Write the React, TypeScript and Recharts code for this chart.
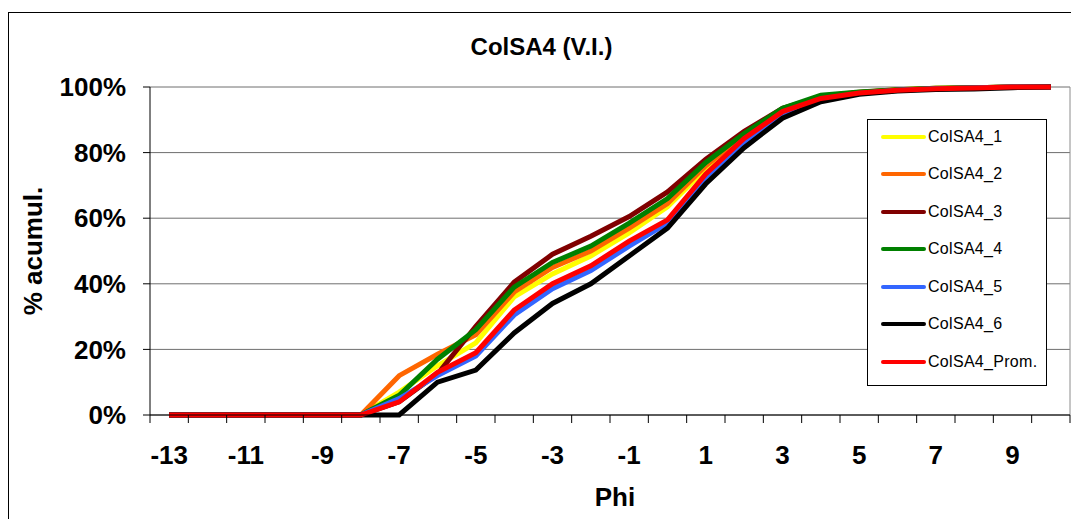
import { LineChart, Line, XAxis, YAxis, CartesianGrid, ReferenceLine, Legend } from 'recharts'

// ─── data ─────────────────────────────────────────────

const PHI = [-13, -12, -11, -10, -9, -8, -7, -6, -5, -4, -3, -2, -1, 0, 1, 2, 3, 4, 5, 6, 7, 8, 9, 10]

const COLSA4_1 = [0, 0, 0, 0, 0, 0, 7, 15, 22, 36, 43, 48.5, 55.5, 63.5, 75, 85, 93, 97, 98.3, 99.2, 99.6, 99.8, 100, 100]
const COLSA4_2 = [0, 0, 0, 0, 0, 0, 12, 18.5, 24.5, 37.5, 45, 50, 57, 64.5, 76, 85.5, 93.2, 97.2, 98.4, 99.2, 99.6, 99.8, 100, 100]
const COLSA4_3 = [0, 0, 0, 0, 0, 0, 4, 12.5, 27, 40.5, 49, 54.5, 60.5, 68, 78, 86.5, 93.5, 97, 98.3, 99.1, 99.5, 99.8, 100, 100]
const COLSA4_4 = [0, 0, 0, 0, 0, 0, 6, 17, 26, 39, 46.5, 51.5, 58.5, 66, 77, 85.8, 93.5, 97.5, 98.5, 99.2, 99.6, 99.8, 100, 100]
const COLSA4_5 = [0, 0, 0, 0, 0, 0, 5, 12, 18, 30.5, 38.5, 44, 51.5, 58.5, 72.5, 83, 92, 96, 98, 99, 99.5, 99.7, 100, 100]
const COLSA4_6 = [0, 0, 0, 0, 0, 0, 0, 10, 13.7, 25, 34, 40, 48.5, 57, 70.5, 81.5, 90.5, 95.5, 97.8, 98.8, 99.2, 99.4, 99.8, 100]
const COLSA4_PROM = [0, 0, 0, 0, 0, 0, 4, 13, 19, 32, 40, 45.5, 53, 59.5, 73.5, 84.3, 92.5, 96.5, 98.2, 99, 99.5, 99.7, 100, 100]

const X_LABELS = [-13, -11, -9, -7, -5, -3, -1, 1, 3, 5, 7, 9]
const X_MARKS = [-13.5, -12.5, -11.5, -10.5, -9.5, -8.5, -7.5, -6.5, -5.5, -4.5, -3.5, -2.5, -1.5, -0.5, 0.5, 1.5, 2.5, 3.5, 4.5, 5.5, 6.5, 7.5, 8.5, 9.5, 10.5]
const Y_TICKS = [0, 20, 40, 60, 80, 100]

const SERIES = [
  { key: 'c1', name: 'ColSA4_1', values: COLSA4_1, color: '#ffff00' },
  { key: 'c2', name: 'ColSA4_2', values: COLSA4_2, color: '#ff6600' },
  { key: 'c3', name: 'ColSA4_3', values: COLSA4_3, color: '#800000' },
  { key: 'c4', name: 'ColSA4_4', values: COLSA4_4, color: '#008000' },
  { key: 'c5', name: 'ColSA4_5', values: COLSA4_5, color: '#3366ff' },
  { key: 'c6', name: 'ColSA4_6', values: COLSA4_6, color: '#000000' },
  { key: 'prom', name: 'ColSA4_Prom.', values: COLSA4_PROM, color: '#ff0000' },
]

const data = PHI.map((phi, i) => {
  const row: Record<string, number> = { phi }
  SERIES.forEach((s) => {
    row[s.key] = s.values[i]
  })
  return row
})

const FONT = '"Liberation Sans", Arial, sans-serif'

// x ticks: half steps draw the tick marks, odd integers draw the labels
function XTick({ x, y, payload }: any) {
  const v = payload.value as number
  if (!Number.isInteger(v)) {
    return <line x1={x} x2={x} y1={y} y2={y + 8} stroke="#000" strokeWidth={1} />
  }
  return (
    <text x={x} y={y + 49} textAnchor="middle" fontFamily={FONT} fontWeight="bold" fontSize={26} fill="#000">
      {v}
    </text>
  )
}

function LegendBox() {
  return (
    <div
      style={{
        border: '1px solid #000',
        background: '#fff',
        boxSizing: 'border-box',
        width: 180,
        height: 267,
        fontFamily: FONT,
        fontSize: 16,
      }}
    >
      <div style={{ position: 'relative', top: -2 }}>
        {SERIES.map((s) => (
          <div key={s.key} style={{ display: 'flex', alignItems: 'center', height: 37.5 }}>
            <span
              style={{
                display: 'inline-block',
                width: 45,
                height: 4,
                borderRadius: 2,
                background: s.color,
                marginLeft: 13,
                marginRight: 2,
              }}
            />
            <span style={{ letterSpacing: 0.3 }}>{s.name}</span>
          </div>
        ))}
      </div>
    </div>
  )
}

export default function App() {
  return (
    <div style={{ position: 'relative', width: 1071, height: 511, overflow: 'hidden', background: '#fff' }}>
      <div
        style={{
          position: 'absolute',
          left: 0,
          top: 4,
          width: 1200,
          height: 700,
          border: '1px solid #000',
        }}
      />
      <div
        style={{
          position: 'absolute',
          left: 0,
          width: 1067,
          top: 25,
          textAlign: 'center',
          fontFamily: FONT,
          fontWeight: 'bold',
          fontSize: 24,
        }}
      >
        ColSA4 (V.I.)
      </div>
      <LineChart
        width={1071}
        height={511}
        data={data}
        margin={{ top: 79, right: 9, left: 0, bottom: 0 }}
        style={{ position: 'absolute', left: 0, top: 0 }}
      >
        <CartesianGrid horizontal vertical={false} stroke="#6e6e6e" />
        <ReferenceLine x={10.5} stroke="#8c8c8c" />
        <XAxis
          dataKey="phi"
          type="number"
          domain={[-13.5, 10.5]}
          ticks={[...X_MARKS, ...X_LABELS].sort((a, b) => a - b)}
          interval={0}
          tick={<XTick />}
          tickLine={false}
          tickSize={0}
          tickMargin={0}
          height={104}
          stroke="#000"
          label={{
            content: ({ viewBox }: any) => (
              <text
                x={viewBox.x + viewBox.width / 2 + 5}
                y={viewBox.y + 91}
                textAnchor="middle"
                fontFamily={FONT}
                fontWeight="bold"
                fontSize={26}
                fill="#000"
              >
                Phi
              </text>
            ),
          }}
        />
        <YAxis
          type="number"
          domain={[0, 100]}
          ticks={Y_TICKS}
          interval={0}
          width={142}
          tickSize={7}
          tickMargin={17}
          stroke="#000"
          tickFormatter={(v: number) => `${v}%`}
          tick={{ fontFamily: FONT, fontWeight: 'bold', fontSize: 26, fill: '#000' }}
          label={{
            content: ({ viewBox }: any) => {
              const cx = 25
              const cy = viewBox.y + viewBox.height / 2
              return (
                <text
                  x={cx}
                  y={cy}
                  transform={`rotate(-90 ${cx} ${cy})`}
                  textAnchor="middle"
                  dominantBaseline="central"
                  fontFamily={FONT}
                  fontWeight="bold"
                  fontSize={26}
                  fill="#000"
                >
                  % acumul.
                </text>
              )
            },
          }}
        />
        {SERIES.map((s) => (
          <Line
            key={s.key}
            type="linear"
            dataKey={s.key}
            name={s.name}
            stroke={s.color}
            strokeWidth={5}
            dot={false}
            activeDot={false}
            isAnimationActive={false}
          />
        ))}
        <Legend
          layout="vertical"
          align="center"
          verticalAlign="middle"
          content={() => <LegendBox />}
          wrapperStyle={{ position: 'absolute', left: 859, top: 111, width: 180, height: 267 }}
        />
      </LineChart>
    </div>
  )
}
